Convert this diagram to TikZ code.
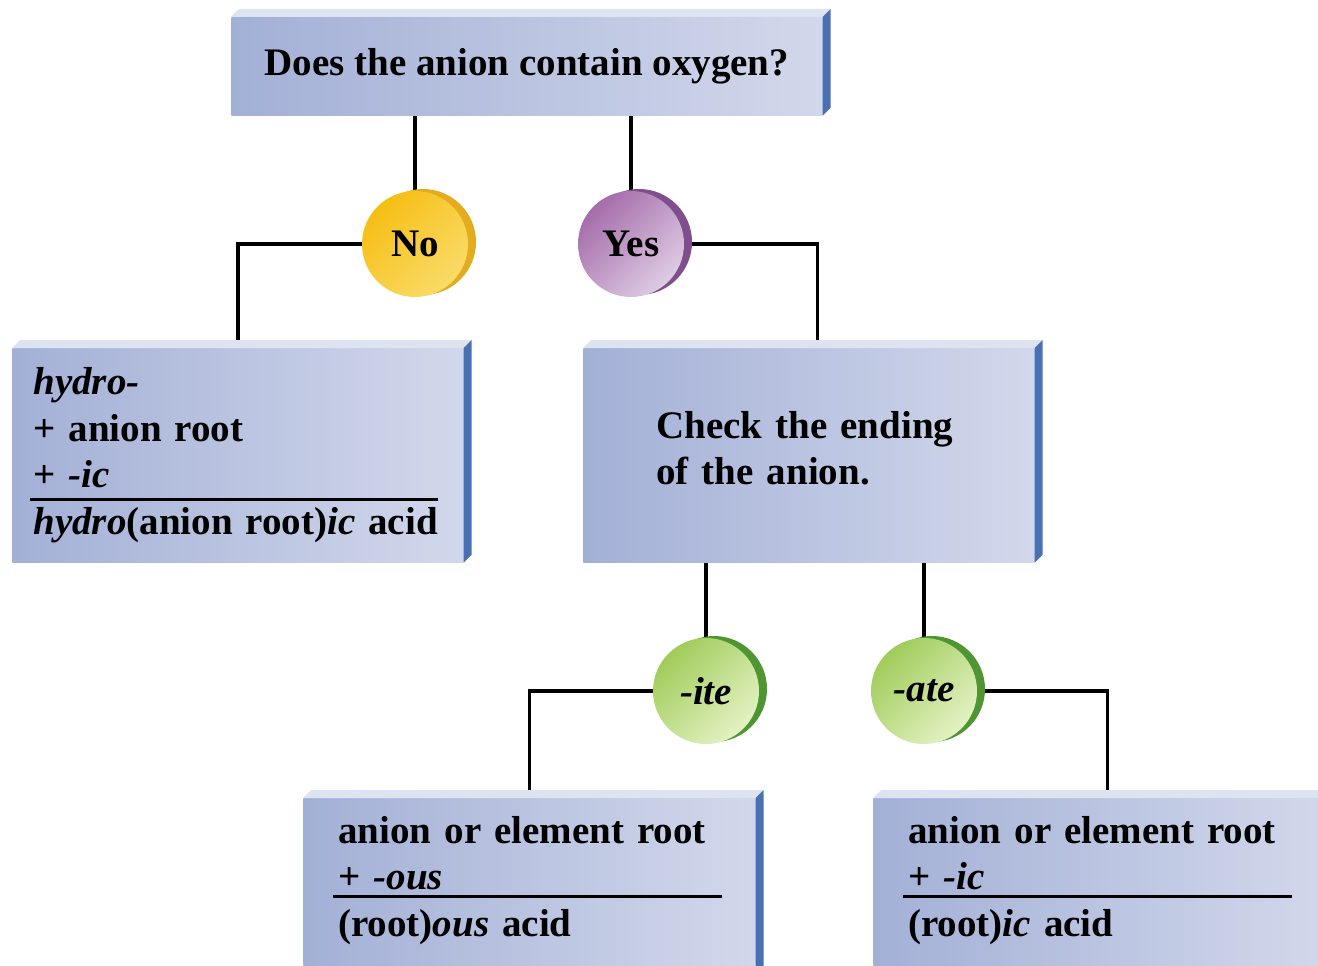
\documentclass[tikz,border=0pt]{standalone}
\usepackage{fontspec}
\setmainfont{Liberation Serif}
\usetikzlibrary{backgrounds,shadows}
\definecolor{boxleft}{RGB}{163,176,214}
\definecolor{boxright}{RGB}{210,216,235}
\definecolor{slabtop}{RGB}{222,227,242}
\definecolor{slabside}{RGB}{74,112,180}
\definecolor{notop}{RGB}{246,190,20}
\definecolor{nobot}{RGB}{250,220,105}
\definecolor{norim}{RGB}{226,172,30}
\definecolor{yestop}{RGB}{165,108,170}
\definecolor{yesbot}{RGB}{222,204,228}
\definecolor{yesrim}{RGB}{128,78,140}
\definecolor{endtop}{RGB}{160,204,90}
\definecolor{endbot}{RGB}{228,242,196}
\definecolor{endrim}{RGB}{78,150,50}
\newlength\upx
\setlength\upx{0.02cm}
\newcommand\sumline[3]{\leavevmode\rlap{\hspace*{-#1\upx}\rule[-#2\upx]{#3\upx}{2.5\upx}}}
\newcommand\lowedge[1]{\vrule width 0pt height 0pt depth #1}
\begin{document}
\begin{tikzpicture}[x=0.02cm,y=-0.02cm,
every node/.style={font=\fontsize{22.2}{26.5}\selectfont\bfseries},
panel/.style={anchor=north west,left color=boxleft,right color=boxright,inner ysep=0pt},
disc/.style={circle,minimum size=106\upx,inner sep=0pt,shading angle=45},
link/.style={line width=2pt}]
\useasboundingbox (0,0) rectangle (1318,966);
\clip (0,0) rectangle (1318,966);
\node[panel,minimum width=591\upx,minimum height=98\upx] (q) at (231,17) {Does the anion contain oxygen?};
\node[panel,minimum height=214\upx,text width=409\upx,inner xsep=21\upx,align=left] (hb) at (12,348)
  {\textit{hydro-}\\ + anion root\\ \sumline{3}{13}{408}+ \textit{-ic}\\ \textit{hydro}(anion root)\textit{ic} acid};
\node[panel,minimum height=214\upx,text width=305\upx,inner xsep=73\upx,align=left] (ck) at (583,348)
  {Check the ending\\ of the anion.\lowedge{15\upx}};
\node[panel,text width=382\upx,inner xsep=35\upx,inner ysep=18\upx,align=left] (ob) at (303,798)
  {anion or element root\\ \sumline{5}{8}{389}+ \textit{-ous}\\ (root)\textit{ous} acid\lowedge{60\upx}};
\node[panel,text width=382\upx,inner xsep=35\upx,inner ysep=18\upx,align=left] (ib) at (873,798)
  {anion or element root\\ \sumline{5}{8}{389}+ \textit{-ic}\\ (root)\textit{ic} acid\lowedge{60\upx}};
\foreach \b in {q,hb,ck,ob,ib} {
  \fill[slabtop] (\b.north west) -- ([shift={(8,-8)}]\b.north west) -- ([shift={(8,-8)}]\b.north east) -- (\b.north east) -- cycle;
  \fill[slabside] (\b.north east) -- ([shift={(8,-8)}]\b.north east) -- ([shift={(8,-8)}]\b.south east) -- (\b.south east) -- cycle;
}
\node[disc,top color=notop,bottom color=nobot,shading angle=45,drop shadow={fill=norim,opacity=1,shadow xshift=8\upx,shadow yshift=2\upx}] (no) at (415,244) {No};
\node[disc,top color=yestop,bottom color=yesbot,shading angle=45,drop shadow={fill=yesrim,opacity=1,shadow xshift=8\upx,shadow yshift=2\upx}] (yes) at (631,244) {Yes};
\node[disc,top color=endtop,bottom color=endbot,shading angle=45,drop shadow={fill=endrim,opacity=1,shadow xshift=8\upx,shadow yshift=2\upx}] (ite) at (706,691) {\textit{-ite}};
\node[disc,top color=endtop,bottom color=endbot,shading angle=45,drop shadow={fill=endrim,opacity=1,shadow xshift=8\upx,shadow yshift=2\upx}] (ate) at (924,691) {\textit{-ate}};
\begin{scope}[on background layer]
\draw[link] (q.south -| no) -- (no);
\draw[link] (q.south -| yes) -- (yes);
\draw[link] (no) -| (hb.north);
\draw[link] (yes) -| ([xshift=8.5\upx]ck.north);
\draw[link] (ck.south -| ite) -- (ite);
\draw[link] (ck.south -| ate) -- (ate);
\draw[link] (ite) -| (ob.north);
\draw[link] (ate) -| ([xshift=8\upx]ib.north);
\end{scope}
\end{tikzpicture}
\end{document}
